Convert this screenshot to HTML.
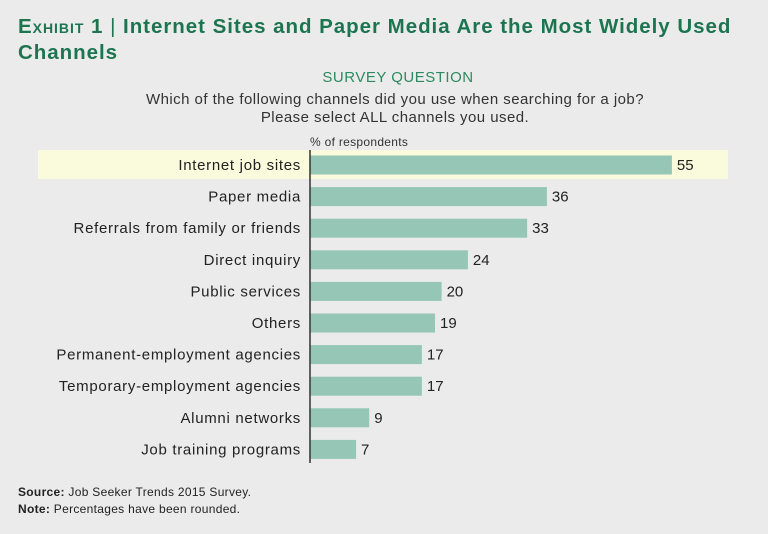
<!DOCTYPE html>
<html><head><meta charset="utf-8"><style>
body{margin:0;background:#ebebeb;}
#c{position:relative;width:768px;height:534px;background:#ebebeb;font-family:"Liberation Sans",sans-serif;overflow:hidden}
.t{position:absolute;white-space:nowrap}
</style></head><body>
<div id="c">
<div class="t" style="left:18px;top:14px;font-size:20.5px;font-weight:bold;color:#1d7550;line-height:26px;letter-spacing:0.97px"><span style="font-variant:small-caps">Exhibit 1</span> <span style="font-weight:normal">|</span> Internet Sites and Paper Media Are the Most Widely Used<br>Channels</div>
<div class="t" style="left:0;width:796px;text-align:center;top:69px;font-size:15px;color:#2b8a5f;letter-spacing:0.5px">SURVEY QUESTION</div>
<div class="t" style="left:0;width:790px;text-align:center;top:91px;font-size:15px;color:#333;line-height:18px;letter-spacing:0.45px">Which of the following channels did you use when searching for a job?<br>Please select ALL channels you used.</div>
<div class="t" style="left:310px;top:135px;font-size:12px;color:#333;letter-spacing:0.3px">% of respondents</div>
<svg id="s" width="768" height="534" style="position:absolute;left:0;top:0"></svg>
<div class="t" style="left:18px;top:484px;font-size:12px;color:#222;line-height:17px;letter-spacing:0.3px"><b>Source:</b> Job Seeker Trends 2015 Survey.<br><b>Note:</b> Percentages have been rounded.</div>
</div>
<script>
const categories=["Internet job sites","Paper media","Referrals from family or friends","Direct inquiry","Public services","Others","Permanent-employment agencies","Temporary-employment agencies","Alumni networks","Job training programs"];
const values=[55,36,33,24,20,19,17,17,9,7];
const ns="http://www.w3.org/2000/svg",s=document.getElementById('s');
const x0=310,k=6.58,y0=165,step=31.6;
const xs=v=>x0+v*k, ys=i=>y0+i*step;
function mk(t,a){const e=document.createElementNS(ns,t);for(const n in a)e.setAttribute(n,a[n]);s.appendChild(e);return e;}
const hl=mk('rect',{x:38,y:ys(0)-15,width:690,height:29,fill:'#fafadc'});


categories.forEach((c,i)=>{
 const b=mk('rect',{x:x0,y:ys(i)-9.5,width:values[i]*k,height:19,fill:'#95c6b6'});
 
 
 const l=mk('text',{x:301,y:ys(i)+5,'text-anchor':'end','font-size':15,fill:'#222','letter-spacing':0.7,'font-family':'Liberation Sans, sans-serif'});
 l.textContent=c;
 
 
 const v=mk('text',{x:xs(values[i])+5,y:ys(i)+5,'font-size':15,fill:'#222','font-family':'Liberation Sans, sans-serif'});
 v.textContent=values[i];
 
 
});
const ax=mk('line',{x1:x0,x2:x0,y1:150,y2:463,stroke:'#333','stroke-width':1.5});


</script>
</body></html>
